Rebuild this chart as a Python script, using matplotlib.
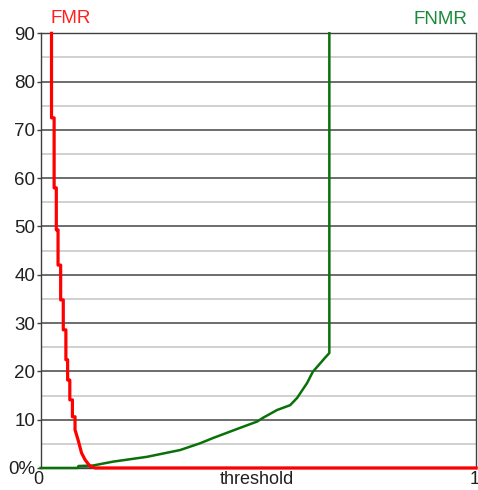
import matplotlib
matplotlib.use("Agg")
import matplotlib.pyplot as plt
from matplotlib.ticker import MultipleLocator

plt.rcParams['font.family'] = ['Liberation Sans', 'DejaVu Sans']

# FMR curve (threshold, percent): staircase at the top, rounding off at the bottom
fmr_x = [0.025, 0.025, 0.031, 0.031, 0.036, 0.036, 0.040, 0.040, 0.046, 0.046,
         0.052, 0.052, 0.058, 0.058, 0.062, 0.062, 0.067, 0.067, 0.073, 0.073,
         0.079, 0.079, 0.086, 0.094, 0.102, 0.113, 0.125, 1.0]
fmr_y = [90, 72.5, 72.5, 58, 58, 49.3, 49.3, 42, 42, 34.8,
         34.8, 28.6, 28.6, 22.4, 22.4, 18.2, 18.2, 14.1, 14.1, 10.6,
         10.6, 7.9, 5.8, 3.1, 1.7, 0.4, 0, 0]

# FNMR curve
fnmr_x = [0, 0.085, 0.087, 0.12, 0.166, 0.244, 0.32, 0.366, 0.396, 0.458,
          0.497, 0.511, 0.543, 0.573, 0.589, 0.612, 0.625, 0.653, 0.663, 0.663]
fnmr_y = [0, 0, 0.4, 0.5, 1.3, 2.3, 3.7, 5.1, 6.2, 8.3,
          9.6, 10.4, 12.0, 13.0, 14.5, 17.6, 19.9, 22.8, 23.8, 90]

y_ticks = [0, 10, 20, 30, 40, 50, 60, 70, 80, 90]
y_labels = ['0%', '10', '20', '30', '40', '50', '60', '70', '80', '90']

fig = plt.figure(figsize=(4.78, 4.90), dpi=100)
ax = fig.add_axes([0.085, 0.045, 0.911, 0.887])

ax.set_xlim(0, 1)
ax.set_ylim(0, 90)

ax.yaxis.set_minor_locator(MultipleLocator(5))
ax.grid(which='major', axis='y', color='#454545', lw=1.1, zorder=0)
ax.grid(which='minor', axis='y', color='#c8c8c8', lw=1.2, zorder=0)

ax.plot(fnmr_x, fnmr_y, color='#0a700a', lw=1.8, zorder=3, clip_on=False)
ax.plot(fmr_x, fmr_y, color='#ff0000', lw=2.3, zorder=4, clip_on=False)

ax.set_yticks(y_ticks)
ax.set_yticklabels(y_labels)
ax.set_xticks([])
ax.tick_params(axis='y', which='major', length=3, width=1, color='#404040',
               pad=1, labelsize=13.5, labelcolor='#202020')
ax.tick_params(axis='y', which='minor', length=0)

for s in ax.spines.values():
    s.set_color('#404040')
    s.set_linewidth(1.0)

# x axis texts: 0, threshold, 1 on one line
for xpos, txt in [(-0.006, '0'), (0.497, 'threshold'), (0.9955, '1')]:
    fig.text(0.085 + 0.911 * xpos, 2 / 490, txt, ha='center',
             va='bottom', fontsize=13, color='#202020')

fig.text(50 / 478, 1 - 18.5 / 490, 'FMR', color='#ff2020', fontsize=13.5,
         ha='left', va='center')
fig.text(467 / 478, 1 - 19 / 490, 'FNMR', color='#1a8a3a', fontsize=13.5,
         ha='right', va='center')

fig.savefig('out.png', dpi=100)
